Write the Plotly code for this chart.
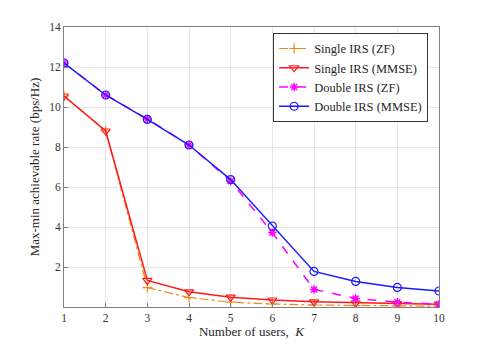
import plotly.graph_objects as go

users = [1, 2, 3, 4, 5, 6, 7, 8, 9, 10]
single_zf = [10.55, 8.8, 0.97, 0.47, 0.24, 0.15, 0.1, 0.07, 0.05, 0.04]
single_mmse = [10.55, 8.8, 1.33, 0.76, 0.49, 0.35, 0.26, 0.2, 0.17, 0.14]
double_zf = [12.2, 10.6, 9.4, 8.1, 6.3, 3.72, 0.88, 0.43, 0.24, 0.14]
double_mmse = [12.2, 10.6, 9.38, 8.1, 6.37, 4.05, 1.78, 1.28, 0.98, 0.8]

SERIF = "Times New Roman, Liberation Serif, serif"

fig = go.Figure()

fig.add_trace(go.Scatter(
    x=users, y=single_zf, name="Single IRS (ZF)", mode="lines+markers",
    line=dict(color="#EE8A1C", width=1.2, dash="dashdot"),
    marker=dict(symbol="cross-thin-open", size=7, color="#EE8A1C",
                line=dict(color="#EE8A1C", width=1.2))
))
fig.add_trace(go.Scatter(
    x=users, y=single_mmse, name="Single IRS (MMSE)", mode="lines+markers",
    line=dict(color="#FF1A1A", width=1.5),
    marker=dict(symbol="triangle-down-open", size=8, color="#FF1A1A",
                line=dict(color="#FF1A1A", width=1.2))
))
fig.add_trace(go.Scatter(
    x=users, y=double_zf, name="Double IRS (ZF)", mode="lines+markers",
    line=dict(color="#FF00FF", width=1.5, dash="dash"),
    marker=dict(symbol="asterisk-open", size=7, color="#FF00FF",
                line=dict(color="#FF00FF", width=1.5))
))
fig.add_trace(go.Scatter(
    x=users, y=double_mmse, name="Double IRS (MMSE)", mode="lines+markers",
    line=dict(color="#1A1AFF", width=1.5),
    marker=dict(symbol="circle-open", size=8, color="#1A1AFF",
                line=dict(color="#1A1AFF", width=1.2))
))

axis_style = dict(
    showline=True, linecolor="#808080", linewidth=1, mirror=True,
    showgrid=True, gridcolor="#E6E6E6", gridwidth=1,
    ticks="inside", ticklen=4, tickcolor="#808080",
    zeroline=False, automargin=False,
    tickfont=dict(family=SERIF, size=11.5, color="#333333"),
)

fig.update_layout(
    width=485,
    height=345,
    margin=dict(l=56, r=54, t=19, b=46),
    paper_bgcolor="white",
    plot_bgcolor="white",
    font=dict(family=SERIF, size=13, color="#262626"),
    showlegend=True,
    legend=dict(
        x=0.971, y=0.979, xanchor="right", yanchor="top",
        bgcolor="white", bordercolor="#333333", borderwidth=1,
        font=dict(family=SERIF, size=12.5, color="#262626"),
        tracegroupgap=0, itemwidth=30,
    ),
    xaxis=dict(
        range=[1, 10], tickvals=users,
        title=dict(text="Number of users,  <i>K</i>", standoff=3,
                   font=dict(family=SERIF, size=13, color="#262626")),
        **axis_style
    ),
    yaxis=dict(
        range=[0, 14], tickvals=[2, 4, 6, 8, 10, 12, 14],
        title=dict(text="Max-min achievable rate (bps/Hz)", standoff=6,
                   font=dict(family=SERIF, size=13, color="#262626")),
        **axis_style
    ),
)

fig.write_html("out.html")
